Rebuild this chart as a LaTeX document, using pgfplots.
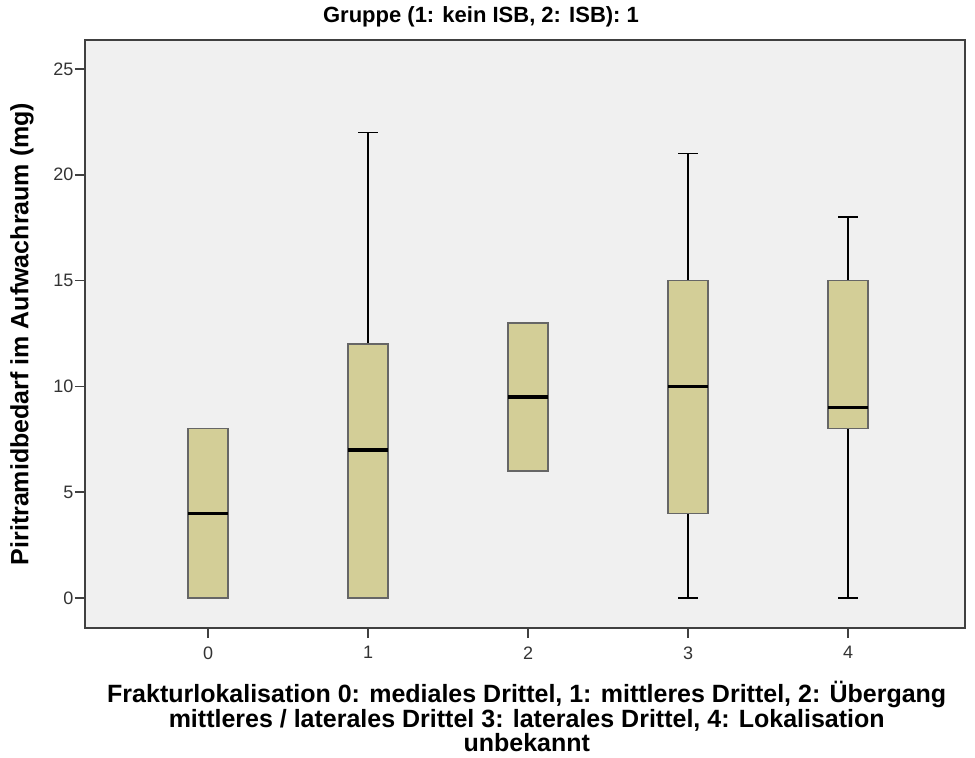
\documentclass[border=0pt]{standalone}
\usepackage{pgfplots}
\pgfplotsset{compat=1.18}
\usepgfplotslibrary{statistics}
\usepackage{fontspec}
\setmainfont{Liberation Sans}
\definecolor{boxfill}{RGB}{211,206,151}
\definecolor{bg}{RGB}{240,240,240}
\begin{document}
\begin{tikzpicture}
\path[use as bounding box] (-85pt,-130pt) rectangle (890pt,628pt);
\begin{axis}[
  at={(0pt,0pt)}, anchor=south west,
  scale only axis, width=880pt, height=588pt,
  xmin=-0.77, xmax=4.73, ymin=-1.42, ymax=26.37,
  axis background/.style={fill=bg},
  axis line style={black!75, line width=1.8pt},
  xtick={0,1,2,3,4}, ytick={0,5,10,15,20,25},
  tick align=outside, tick pos=left,
  major tick length=10pt,
  tick style={black!75, line width=1.5pt},
  /pgf/number format/assume math mode=true,
  ticklabel style={font=\fontsize{18}{20}\selectfont, text=black!80},
  yticklabel style={xshift=2pt},
  xticklabel style={yshift=-5pt},
  title={\bfseries Gruppe (1: kein ISB, 2: ISB): 1},
  title style={font=\fontsize{22}{24}\selectfont, at={(axis description cs:0.45,1.03)}, anchor=center},
  ylabel={\bfseries Piritramidbedarf im Aufwachraum (mg)},
  ylabel style={font=\fontsize{25}{26}\selectfont, at={(axis description cs:-0.0716,0.5)}, anchor=center},
  xlabel={\bfseries Frakturlokalisation 0: mediales Drittel, 1: mittleres Drittel, 2: Übergang\\ \bfseries mittleres / laterales Drittel 3: laterales Drittel, 4: Lokalisation\\ \bfseries unbekannt},
  xlabel style={font=\fontsize{25}{24.5}\selectfont, align=center, at={(axis description cs:0.502,-0.151)}, anchor=center},
  boxplot/draw direction=y,
  boxplot/box extend=0.25,
  boxplot/whisker extend=0.125,
  boxplot/every box/.style={fill=boxfill, draw=black!60, line width=1.6pt},
  boxplot/every whisker/.style={black, line width=1.6pt},
  boxplot/every median/.style={black, line width=3.5pt},
]
\addplot+[boxplot prepared={draw position=0, lower whisker=0, lower quartile=0, median=4, upper quartile=8, upper whisker=8}, mark=none] coordinates {};
\addplot+[boxplot prepared={draw position=1, lower whisker=0, lower quartile=0, median=7, upper quartile=12, upper whisker=22}, mark=none] coordinates {};
\addplot+[boxplot prepared={draw position=2, lower whisker=6, lower quartile=6, median=9.5, upper quartile=13, upper whisker=13}, mark=none] coordinates {};
\addplot+[boxplot prepared={draw position=3, lower whisker=0, lower quartile=4, median=10, upper quartile=15, upper whisker=21}, mark=none] coordinates {};
\addplot+[boxplot prepared={draw position=4, lower whisker=0, lower quartile=8, median=9, upper quartile=15, upper whisker=18}, mark=none] coordinates {};
\end{axis}
\end{tikzpicture}
\end{document}
